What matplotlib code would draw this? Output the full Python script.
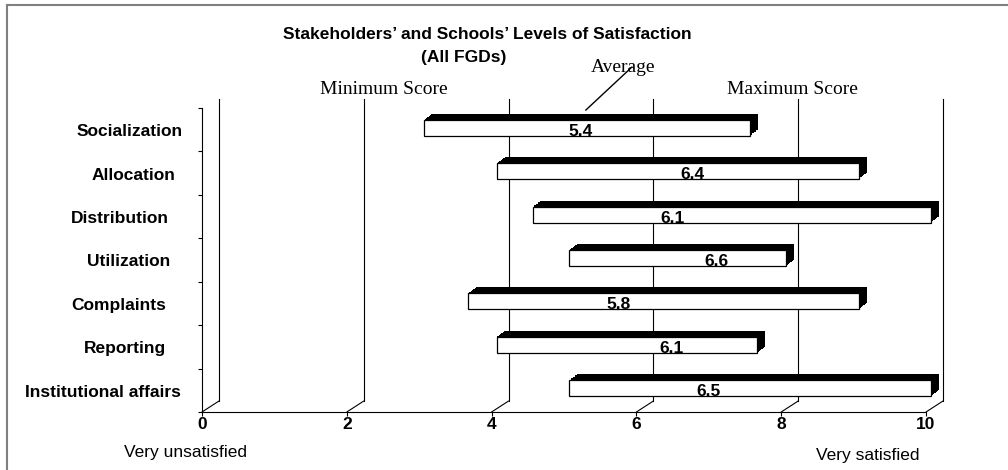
import matplotlib
matplotlib.use('Agg')
import matplotlib.pyplot as plt
from matplotlib.transforms import Affine2D
from matplotlib.lines import Line2D
import numpy as np

# data
categories = ['Socialization', 'Allocation', 'Distribution', 'Utilization',
              'Complaints', 'Reporting', 'Institutional affairs']
min_score = [3.0, 4.0, 4.5, 5.0, 3.6, 4.0, 5.0]
max_score = [7.5, 9.0, 10.0, 8.0, 9.0, 7.6, 10.0]
average = [5.4, 6.4, 6.1, 6.6, 5.8, 6.1, 6.5]
x_ticks = [0, 2, 4, 6, 8, 10]

# layout (where Excel happened to put the labels)
avg_label_x = [5.16, 6.71, 6.43, 7.03, 5.68, 6.41, 6.92]
name_pad_px = [-19, -27, -33, -32, -36, -36, -21]

W, H = 1008, 470
SANS = 'Liberation Sans'
SERIF = 'Liberation Serif'
FS = 12.5

fig = plt.figure(figsize=(W / 100, H / 100), dpi=100)
ax = fig.add_axes([202 / W, (H - 412) / H, 724 / W, 304 / H])
ax.set_xlim(0, 10)
ax.set_ylim(6.5, -0.5)
ax.patch.set_visible(False)


def shifted(dx, dy):
    # data coords pushed back "into" the 3d depth, in pixels
    return ax.transData + Affine2D().translate(dx, dy)


def px(x, y):
    return x / W, 1 - y / H


# back wall gridlines + floor diagonals
for x in x_ticks:
    ax.plot([x, x], [6.5, -0.45], color='black', lw=0.8,
            transform=shifted(17, 11), clip_on=False, zorder=2)
    ax.annotate('', xy=(x, 6.5), xytext=(17, 11), textcoords='offset pixels',
                arrowprops=dict(arrowstyle='-', lw=0.8, color='black',
                                shrinkA=0, shrinkB=0), zorder=2)

# floating 3d bars: min -> max
y = np.arange(len(categories))
widths = np.array(max_score) - np.array(min_score)
bh = 0.37
for k in np.linspace(1, 0.1, 10):
    ax.barh(y, widths, left=min_score, height=bh, color='black', lw=0,
            transform=shifted(5 + 8 * k, 2 + 6 * k), clip_on=False, zorder=3)
ax.barh(y, widths, left=min_score, height=bh, color='white', edgecolor='black',
        lw=0.9, transform=shifted(5, 2), clip_on=False, zorder=4)

for i, avg in enumerate(average):
    ax.text(avg_label_x[i], y[i] + bh / 2, f'{avg:.1f}', ha='center', va='baseline',
            fontsize=FS, fontweight='bold', family=SANS,
            transform=shifted(5, 2), zorder=5)

# category names
for i, name in enumerate(categories):
    ax.text(0, y[i], name, ha='right', va='baseline', fontsize=FS,
            fontweight='bold', family=SANS,
            transform=shifted(name_pad_px[i], -6.5))

# axes
ax.set_xticks(x_ticks)
ax.set_xticklabels([str(t) for t in x_ticks], fontsize=FS, fontweight='bold', family=SANS)
ax.set_yticks(np.arange(-0.5, 7, 1))
ax.set_yticklabels([])
ax.tick_params(axis='x', length=3, width=0.8, pad=0.5)
ax.tick_params(axis='y', length=3, width=0.8)
for s in ['top', 'right']:
    ax.spines[s].set_visible(False)
for s in ['left', 'bottom']:
    ax.spines[s].set_linewidth(0.8)

# title and annotations
fig.text(*px(487, 39), 'Stakeholders’ and Schools’ Levels of Satisfaction',
         ha='center', va='baseline', fontsize=FS, fontweight='bold', family=SANS)
fig.text(*px(464, 62), '(All FGDs)', ha='center', va='baseline',
         fontsize=FS, fontweight='bold', family=SANS)
fig.text(*px(383.5, 94), 'Minimum Score', ha='center', va='baseline',
         fontsize=14, family=SERIF)
fig.text(*px(792, 94), 'Maximum Score', ha='center', va='baseline',
         fontsize=14, family=SERIF)
fig.text(*px(623.5, 72), 'Average', ha='center', va='baseline',
         fontsize=14, family=SERIF)
ax.annotate('', xy=(5.3, -0.45), xycoords='data',
            xytext=(632, H - 67), textcoords='figure pixels',
            arrowprops=dict(arrowstyle='-', lw=1.0, color='black',
                            shrinkA=0, shrinkB=0), zorder=6)
fig.text(*px(124, 457), 'Very unsatisfied', ha='left', va='baseline',
         fontsize=FS, family=SANS)
fig.text(*px(815.7, 460), 'Very satisfied', ha='left', va='baseline',
         fontsize=FS, family=SANS)

# grey frame (top and left only)
fig.add_artist(Line2D([7 / W, 1], [1 - 5.3 / H] * 2, color='#808080', lw=1.5,
                      transform=fig.transFigure))
fig.add_artist(Line2D([6.7 / W] * 2, [0, 1 - 5.3 / H], color='#808080', lw=1.5,
                      transform=fig.transFigure))

fig.savefig('out.png', dpi=100)
